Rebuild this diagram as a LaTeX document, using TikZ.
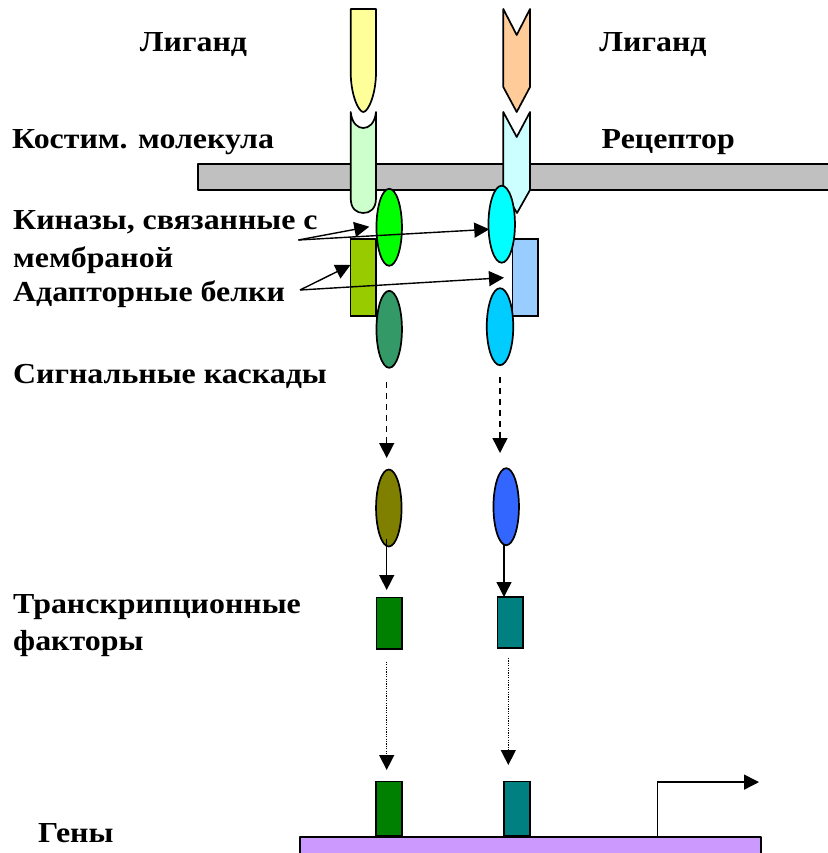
\documentclass[tikz,border=0pt]{standalone}
\usepackage{fontspec}
\setmainfont{Liberation Serif}[FakeStretch=1.1]
\usetikzlibrary{shapes.geometric,arrows.meta}
\definecolor{memgray}{HTML}{C0C0C0}
\definecolor{ligY}{HTML}{FFFF99}
\definecolor{ligO}{HTML}{FFCC99}
\definecolor{costimC}{HTML}{CCFFCC}
\definecolor{recC}{HTML}{CCFFFF}
\definecolor{kinG}{HTML}{00FF00}
\definecolor{kinC}{HTML}{00FFFF}
\definecolor{adG}{HTML}{99CC00}
\definecolor{adB}{HTML}{99CCFF}
\definecolor{casG}{HTML}{339966}
\definecolor{casB}{HTML}{00CCFF}
\definecolor{olv}{HTML}{808000}
\definecolor{blu}{HTML}{3366FF}
\definecolor{tfG}{HTML}{008000}
\definecolor{tfT}{HTML}{008080}
\definecolor{gene}{HTML}{CC99FF}
\tikzset{
  shp/.style={draw=black, line width=1.7pt, line join=round},
  oval/.style={ellipse, draw=black, line width=1.7pt, inner sep=0pt, minimum width=25.5pt, minimum height=77pt},
  box/.style={rectangle, draw=black, line width=1.7pt, inner sep=0pt, minimum width=25.5pt},
  lbl/.style={font=\fontsize{29}{37}\selectfont\bfseries, inner sep=0pt},
  arr/.style={line width=1.4pt, -{Triangle[length=15pt,width=15pt]}},
  darr/.style={arr, dash pattern=on 6.5pt off 4.5pt},
  tarr/.style={arr, line width=1.3pt, dash pattern=on 1.2pt off 1.2pt}
}
\begin{document}
\begin{tikzpicture}[x=1pt,y=-1pt]
\useasboundingbox (0,0) rectangle (827,853);
% membrane
\node[shp, fill=memgray, rectangle, inner sep=0pt, minimum width=632pt, minimum height=26pt, anchor=north west] (mem) at (197,163) {};
% ligands
\draw[shp, fill=ligY] (350.7,9) -- (376,9) -- (376,72) .. controls (376,95) and (368,112) .. (363.3,112) .. controls (358.6,112) and (350.7,95) .. (350.7,72) -- cycle;
\draw[shp, fill=ligO] (503.3,9) -- (516.7,35) -- (530,9) -- (530,87) -- (516.7,112) -- (503.3,87) -- cycle;
% costim molecule and receptor
\draw[shp, fill=costimC] (350.7,112) .. controls (352,124) and (358,128) .. (363.3,128) .. controls (368.6,128) and (374.7,124) .. (376,112) -- (376,198) .. controls (376,209) and (370,213) .. (363.3,213) .. controls (356.6,213) and (350.7,209) .. (350.7,198) -- cycle;
\draw[shp, fill=recC] (503.3,112) -- (516.7,137) -- (530,112) -- (530,190) -- (517,213) -- (503.3,190) -- cycle;
% kinases and adaptors
\node[box, fill=adG, minimum height=77pt] (adL) at (363.2,277.7) {};
\node[oval, fill=kinG] (kinL) at (389.2,227.3) {};
\node[oval, fill=casG] (casL) at (389.2,329.3) {};
\node[box, fill=adB, minimum height=77pt] (adR) at (525.3,277.7) {};
\node[oval, fill=kinC, minimum width=26.5pt] (kinR) at (501.7,224.2) {};
\node[oval, fill=casB, minimum width=26.5pt] (casR) at (500,326.7) {};
% cascade
\node[oval, fill=olv] (cL) at (388.8,508) {};
\node[oval, fill=blu] (cR) at (506.2,506.7) {};
% transcription factors
\node[box, fill=tfG, minimum height=51.7pt] (tfL) at (389.2,623.2) {};
\node[box, fill=tfT, minimum height=51pt] (tfR) at (510.3,622.8) {};
% gene bar
\node[shp, fill=gene, rectangle, inner sep=0pt, minimum width=460.6pt, minimum height=30pt, anchor=north west] (gbar) at (299.2,836.2) {};
\node[box, fill=tfG, minimum height=54pt, anchor=south] (gL) at (389,836.2) {};
\node[box, fill=tfT, minimum height=54pt, anchor=south] (gR) at (517,836.2) {};
% labels
\node[lbl, anchor=base] (ligL) at (193.5,51.5) {Лиганд};
\node[lbl, anchor=base] (ligR) at (653,51.5) {Лиганд};
\node[lbl, anchor=base west] (kost) at (12,149) {Костим. молекула};
\node[lbl, anchor=base west] (rec) at (601.5,149) {Рецептор};
\node[lbl, anchor=base west] (kin) at (13,229.5) {Киназы, связанные с};
\node[lbl, anchor=base west] (memb) at (13,267) {мембраной};
\node[lbl, anchor=base west] (adap) at (13,301.5) {Адапторные белки};
\node[lbl, anchor=base west] (sig) at (13,383) {Сигнальные каскады};
\node[lbl, anchor=base west] (tf1) at (13,613.3) {Транскрипционные};
\node[lbl, anchor=base west] (tf2) at (13,650) {факторы};
\node[lbl, anchor=base west] (gen) at (38,842) {Гены};
% pointer arrows
\coordinate (pk) at (298.3,240);
\coordinate (pa) at (300,290);
\coordinate (tkL) at (369.3,226.7);
\coordinate (tkR) at (489.3,229.3);
\coordinate (taL) at (350.5,265);
\coordinate (taR) at (504,277.7);
\draw[arr] (pk) -- (tkL);
\draw[arr] (pk) -- (tkR);
\draw[arr] (pa) -- (taL);
\draw[arr] (pa) -- (taR);
% cascade arrows
\coordinate (dL) at (386.7,381.7);
\coordinate (dLt) at (386.7,458);
\coordinate (dR) at (500,376.7);
\coordinate (dRt) at (500,453);
\draw[darr] (dL) -- (dLt);
\draw[darr] (dR) -- (dRt);
\coordinate (sL) at (386.7,539);
\coordinate (sLt) at (386.7,590);
\coordinate (sR) at (504,545);
\coordinate (sRt) at (504,597);
\draw[arr] (sL) -- (sLt);
\draw[arr] (sR) -- (sRt);
\coordinate (oL) at (386.7,661.7);
\coordinate (oLt) at (386.7,770);
\coordinate (oR) at (508.3,658);
\coordinate (oRt) at (508.3,765);
\draw[tarr] (oL) -- (oLt);
\draw[tarr] (oR) -- (oRt);
% transcription start arrow
\coordinate (ts) at (657.5,836.2);
\coordinate (tsE) at (759,782.1);
\draw[arr] (ts) |- (tsE);
\end{tikzpicture}
\end{document}
